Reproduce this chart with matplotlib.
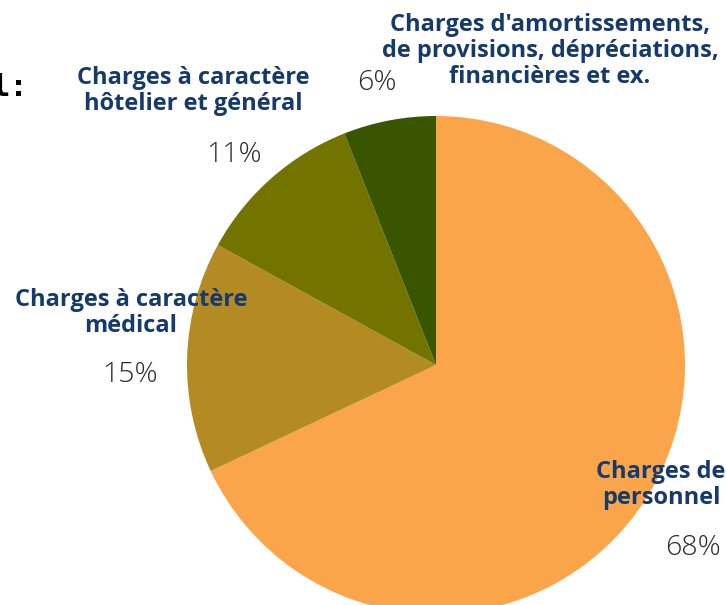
import matplotlib
matplotlib.use("Agg")
import matplotlib.pyplot as plt

# --- data ---
labels = ["Charges de\npersonnel",
          "Charges à caractère\nmédical",
          "Charges à caractère\nhôtelier et général",
          "Charges d'amortissements,\nde provisions, dépréciations,\nfinancières et ex."]
values = [68, 15, 11, 6]
colors = ["#FBA54A", "#B48B22", "#737400", "#3A5500"]

# label / percent positions in pixels (x from left, y from top)
label_pos = [(661, 485), (131, 313), (193, 91), (550, 51)]
pct_pos = [(693, 548), (130, 375), (234, 155), (377, 83)]

W, H = 726, 605
fig = plt.figure(figsize=(W / 100, H / 100), dpi=100)
ax = fig.add_axes([0, 0, 1, 1])

ax.pie(values, colors=colors, startangle=90, counterclock=False,
       center=(436, H - 365), radius=249, frame=True,
       wedgeprops=dict(linewidth=0))
ax.set_xlim(0, W)
ax.set_ylim(0, H)
ax.set_aspect("equal")
ax.axis("off")

navy = "#163A6B"
for lab, (x, y) in zip(labels, label_pos):
    ax.text(x, H - y, lab, ha="center", va="center", fontsize=17,
            fontfamily="Open Sans", fontweight="bold", color=navy,
            linespacing=1.12)

for v, (x, y) in zip(values, pct_pos):
    ax.text(x, H - y, f"{v}%", ha="center", va="center", fontsize=20.5,
            fontfamily="Open Sans", fontweight="light", color="#2a2a2a")

# cut-off title
ax.text(28, H - 96, "l:", ha="right", va="baseline", fontsize=22,
        fontfamily="DejaVu Sans Mono", fontweight="bold", color="black")

fig.savefig("out.png", dpi=100)
